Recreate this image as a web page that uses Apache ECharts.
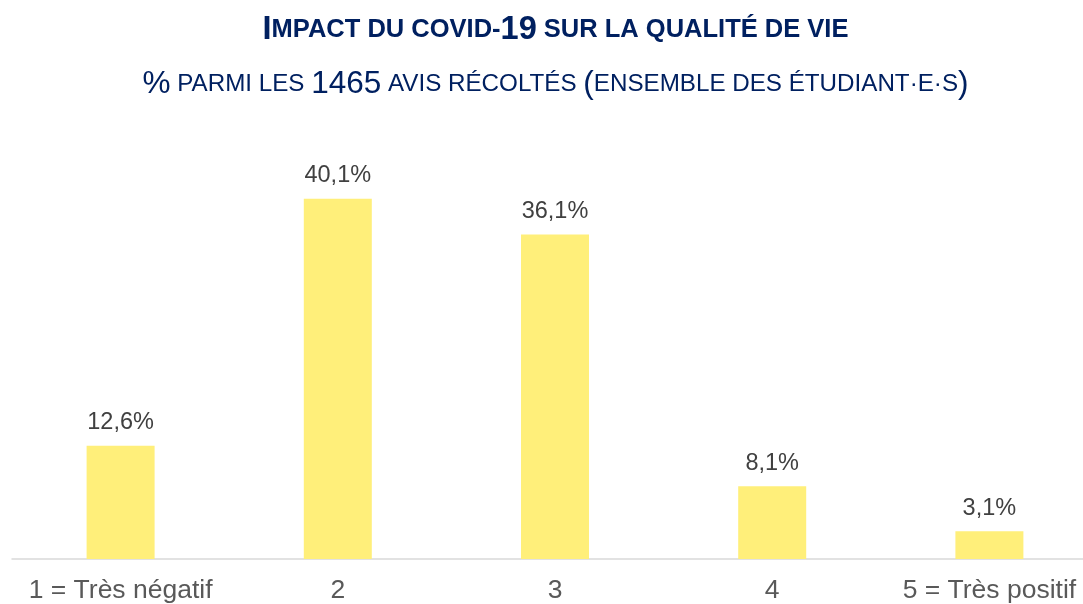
<!DOCTYPE html>
<html>
<head>
<meta charset="utf-8">
<script src="https://cdn.jsdelivr.net/npm/echarts@6/dist/echarts.min.js"></script>
<style>
  html, body { margin: 0; padding: 0; background: #ffffff; overflow: hidden; }
  #chart { width: 1100px; height: 604px; }
</style>
</head>
<body>
<div id="chart"></div>
<script>
// Réponses : impact du covid-19 sur la qualité de vie (1 à 5)
const categories = ['1 = Très négatif', '2', '3', '4', '5 = Très positif'];
const shares = [12.6, 40.1, 36.1, 8.1, 3.1];

const navy = '#002060';
const font = '"Liberation Sans", Arial, sans-serif';

const chart = echarts.init(document.getElementById('chart'), null, { renderer: 'canvas' });

chart.setOption({
  backgroundColor: '#ffffff',
  animation: false,
  graphic: [
    {
      type: 'text',
      x: 555.5,
      y: 30,
      style: {
        text: '{big|I}{sm|MPACT DU COVID-}{big|19}{sm| SUR LA QUALITÉ DE VIE}',
        align: 'center',
        verticalAlign: 'middle',
        rich: {
          big: { fontFamily: font, fontWeight: 'bold', fontSize: 32.5, fill: navy },
          sm:  { fontFamily: font, fontWeight: 'bold', fontSize: 25.5, fill: navy }
        }
      }
    },
    {
      type: 'text',
      x: 555.5,
      y: 84,
      style: {
        text: '{big|%}{sm| PARMI LES }{big|1465}{sm| AVIS RÉCOLTÉS }{big|(}{sm|ENSEMBLE DES ÉTUDIANT·E·S}{big|)}',
        align: 'center',
        verticalAlign: 'middle',
        rich: {
          big: { fontFamily: font, fontWeight: 'normal', fontSize: 31.5, fill: navy },
          sm:  { fontFamily: font, fontWeight: 'normal', fontSize: 24.2, fill: navy }
        }
      }
    }
  ],
  grid: { left: 12, width: 1086, top: 154.6, bottom: 43, containLabel: false },
  xAxis: {
    type: 'category',
    data: categories,
    axisLine: { show: true, lineStyle: { color: '#d9d9d9', width: 1.5 } },
    axisTick: { show: false },
    axisLabel: {
      color: '#595959',
      fontFamily: font,
      fontSize: 26.5,
      margin: 18,
      interval: 0
    }
  },
  yAxis: {
    type: 'value',
    min: 0,
    max: 45,
    show: false,
    splitLine: { show: false }
  },
  series: [
    {
      type: 'bar',
      data: shares,
      barWidth: 68,
      itemStyle: { color: '#ffef7a' },
      label: {
        show: true,
        position: 'top',
        distance: 11,
        color: '#404040',
        fontFamily: font,
        fontSize: 23.5,
        formatter: p => p.value.toFixed(1).replace('.', ',') + '%'
      }
    }
  ]
});
</script>
</body>
</html>
